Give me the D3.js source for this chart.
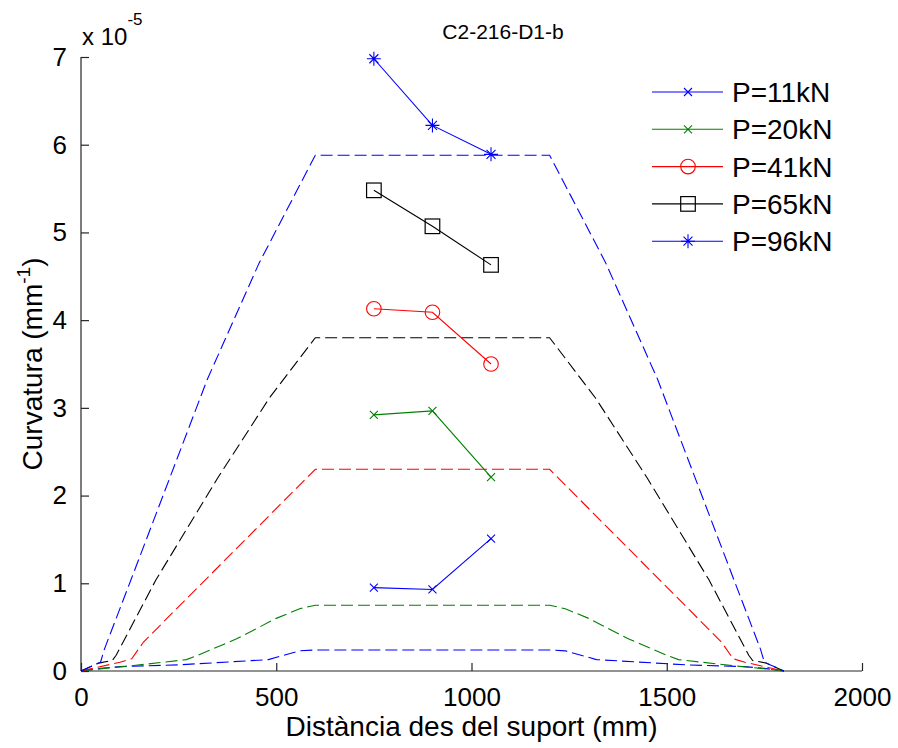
<!DOCTYPE html>
<html>
<head>
<meta charset="utf-8">
<script src="https://cdn.jsdelivr.net/npm/d3@7"></script>
<style>
  html, body { margin: 0; padding: 0; background: #fff; }
  svg { display: block; font-family: "Liberation Sans", Arial, sans-serif; }
</style>
</head>
<body>
<svg id="chart" width="898" height="748"></svg>
<script>
// ---- data (curvature in units of 1e-5 mm^-1) ----
const titleText = "C2-216-D1-b";
const xTicks = [0, 500, 1000, 1500, 2000];
const yTicks = [0, 1, 2, 3, 4, 5, 6, 7];
const xLabel = "Distància des del suport (mm)";
const seriesNames = ["P=11kN", "P=20kN", "P=41kN", "P=65kN", "P=96kN"];
const seriesColors = ["#0000ff", "#008000", "#ff0000", "#000000", "#0000ff"];
const seriesMarkers = ["x", "x", "circle", "square", "star"];

// measured points
const xMeas = [750, 900, 1050];
const meas11 = [0.95, 0.93, 1.51];
const meas20 = [2.92, 2.965, 2.21];
const meas41 = [4.13, 4.09, 3.50];
const meas65 = [5.48, 5.07, 4.63];
const meas96 = [6.98, 6.22, 5.89];

// theoretical (dashed) curves
const theo11X = [0, 50, 100, 250, 480, 560, 600, 1200, 1240, 1320, 1550, 1700, 1750, 1800];
const theo11Y = [0, 0.03, 0.05, 0.07, 0.13, 0.23, 0.24, 0.24, 0.23, 0.13, 0.07, 0.05, 0.03, 0];
const theo20X = [0, 60, 130, 270, 300, 400, 500, 560, 600, 1200, 1240, 1300, 1400, 1500, 1530, 1670, 1740, 1800];
const theo20Y = [0, 0.03, 0.06, 0.13, 0.18, 0.37, 0.6, 0.71, 0.75, 0.75, 0.71, 0.6, 0.37, 0.18, 0.13, 0.06, 0.03, 0];
const theo41X = [0, 40, 100, 130, 160, 600, 1200, 1640, 1670, 1700, 1760, 1800];
const theo41Y = [0, 0.04, 0.1, 0.14, 0.33, 2.3, 2.3, 0.33, 0.14, 0.1, 0.04, 0];
const theo65X = [0, 45, 80, 90, 192, 350, 482, 600, 1200, 1318, 1450, 1608, 1710, 1720, 1755, 1800];
const theo65Y = [0, 0.09, 0.12, 0.18, 1.04, 2.2, 3.11, 3.8, 3.8, 3.11, 2.2, 1.04, 0.18, 0.12, 0.09, 0];
const theo96X = [0, 50, 60, 128, 323, 456, 600, 1200, 1344, 1477, 1672, 1740, 1750, 1800];
const theo96Y = [0, 0.1, 0.25, 1.04, 3.32, 4.65, 5.88, 5.88, 4.65, 3.32, 1.04, 0.25, 0.1, 0];

// ---- build ----
const measSets = [meas11, meas20, meas41, meas65, meas96];
const theoSets = [[theo11X, theo11Y], [theo20X, theo20Y], [theo41X, theo41Y], [theo65X, theo65Y], [theo96X, theo96Y]];

const svg = d3.select("#chart");
const mLeft = 81, mRight = 862, mTop = 57, mBottom = 671;
const x = d3.scaleLinear().domain([0, 2000]).range([mLeft, mRight]);
const y = d3.scaleLinear().domain([0, 7]).range([mBottom, mTop]);

// axes (MATLAB style: left + bottom, inward ticks)
const xAxis = d3.axisBottom(x).tickValues(xTicks).tickSize(-8).tickPadding(17).tickFormat(d3.format("d"));
const yAxis = d3.axisLeft(y).tickValues(yTicks).tickSize(-8).tickPadding(14).tickFormat(d3.format("d"));

const gx = svg.append("g").attr("transform", `translate(0,${mBottom})`).call(xAxis);
const gy = svg.append("g").attr("transform", `translate(${mLeft},0)`).call(yAxis);
[gx, gy].forEach(g => {
  g.select(".domain").attr("stroke", "#262626").attr("stroke-width", 1.2);
  g.selectAll(".tick line").attr("stroke", "#262626").attr("stroke-width", 1.2);
  g.selectAll(".tick text").attr("fill", "#000").attr("font-size", 26)
    .attr("font-family", "'Liberation Sans', Arial, sans-serif");
});
gx.select(".domain").attr("d", `M${mLeft},0H${mRight}`);
gy.select(".domain").attr("d", `M0,${mBottom}V${mTop}`);
gx.selectAll(".tick text").attr("dy", "0.71em");

// exponent note
const note = svg.append("text").attr("x", mLeft + 1).attr("y", 45).attr("font-size", 24).attr("fill", "#000");
note.append("tspan").text("x 10");
note.append("tspan").attr("dy", -20).attr("font-size", 17).text("-5");

// title
svg.append("text").attr("x", 503).attr("y", 39).attr("text-anchor", "middle")
  .attr("font-size", 21).attr("fill", "#000").text(titleText);

// x label
svg.append("text").attr("x", (mLeft + mRight) / 2).attr("y", 736).attr("text-anchor", "middle")
  .attr("font-size", 28).attr("fill", "#000").text(xLabel);

// y label
const yl = svg.append("text").attr("transform", `translate(42,${(mTop + mBottom) / 2}) rotate(-90)`)
  .attr("text-anchor", "middle").attr("font-size", 28).attr("fill", "#000");
yl.append("tspan").text("Curvatura (mm");
yl.append("tspan").attr("dy", -12).attr("font-size", 19).text("-1");
yl.append("tspan").attr("dy", 12).text(")");

const line = d3.line().x(d => x(d[0])).y(d => y(d[1]));

// dashed theoretical curves
theoSets.forEach((s, i) => {
  const pts = s[0].map((v, k) => [v, s[1][k]]);
  svg.append("path").attr("d", line(pts)).attr("fill", "none")
    .attr("stroke", seriesColors[i]).attr("stroke-width", 1.1)
    .attr("stroke-dasharray", "12,5");
});

// marker drawing
function drawMarker(g, type, cx, cy, color) {
  if (type === "x") {
    const r = 4;
    g.append("path").attr("d", `M${cx - r},${cy - r}L${cx + r},${cy + r}M${cx - r},${cy + r}L${cx + r},${cy - r}`)
      .attr("stroke", color).attr("stroke-width", 1.1).attr("fill", "none");
  } else if (type === "circle") {
    g.append("circle").attr("cx", cx).attr("cy", cy).attr("r", 7.3)
      .attr("stroke", color).attr("stroke-width", 1.1).attr("fill", "none");
  } else if (type === "square") {
    g.append("rect").attr("x", cx - 7.3).attr("y", cy - 7.3).attr("width", 14.6).attr("height", 14.6)
      .attr("stroke", color).attr("stroke-width", 1.2).attr("fill", "none");
  } else if (type === "star") {
    const r = 7, d = 4.5;
    g.append("path").attr("d", `M${cx},${cy - r}L${cx},${cy + r}M${cx - r},${cy}L${cx + r},${cy}M${cx - d},${cy - d}L${cx + d},${cy + d}M${cx - d},${cy + d}L${cx + d},${cy - d}`)
      .attr("stroke", color).attr("stroke-width", 1.1).attr("fill", "none");
  }
}

// measured series
measSets.forEach((vals, i) => {
  const pts = xMeas.map((v, k) => [v, vals[k]]);
  svg.append("path").attr("d", line(pts)).attr("fill", "none")
    .attr("stroke", seriesColors[i]).attr("stroke-width", 1.1);
  const g = svg.append("g");
  pts.forEach(p => drawMarker(g, seriesMarkers[i], x(p[0]), y(p[1]), seriesColors[i]));
});

// legend
const lg = svg.append("g");
seriesNames.forEach((name, i) => {
  const cy = 92 + i * 37.3;
  lg.append("line").attr("x1", 652).attr("x2", 723).attr("y1", cy).attr("y2", cy)
    .attr("stroke", seriesColors[i]).attr("stroke-width", 1.1);
  drawMarker(lg, seriesMarkers[i], 688, cy, seriesColors[i]);
  lg.append("text").attr("x", 732).attr("y", cy + 10).attr("font-size", 28).attr("fill", "#000").text(name);
});
</script>
</body>
</html>
